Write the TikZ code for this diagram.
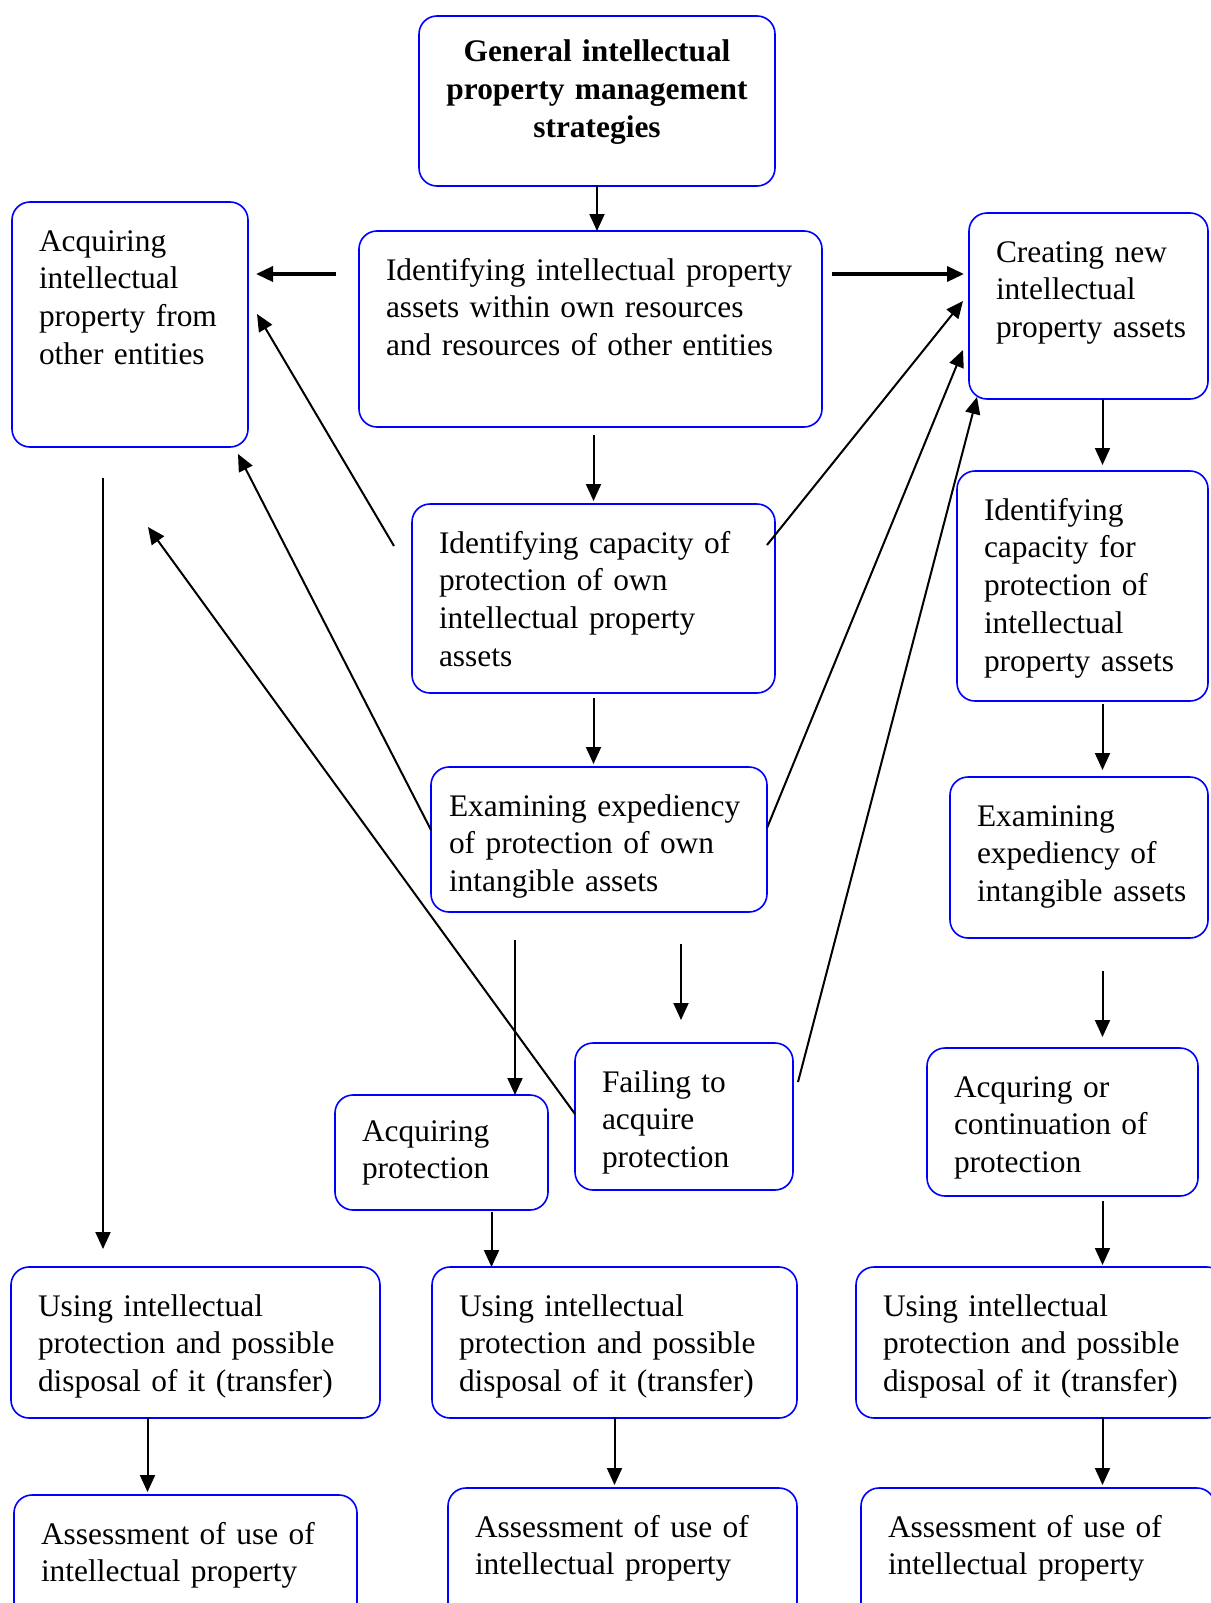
\documentclass[tikz,border=0pt]{standalone}
\usepackage{fontspec}
\setmainfont{Liberation Serif}
\usetikzlibrary{arrows.meta}
\hyphenpenalty=10000
\exhyphenpenalty=10000

\begin{document}
\begin{tikzpicture}[
  x=1pt, y=-1pt,
  every node/.style={font=\fontsize{31.4}{37.8}\selectfont},
  stage/.style={draw=blue, line width=1.6pt, rounded corners=18pt,
                anchor=north west, outer sep=0pt, align=left,
                inner xsep=27pt, inner ysep=27pt, text height=22pt},
  title/.style={stage, align=center, inner xsep=10pt, inner ysep=24pt,
                font=\fontsize{31.4}{37.8}\selectfont\bfseries},
  flow/.style={->, line width=2pt},
  bigflow/.style={->, line width=3.5pt},
  >={Triangle[length=17pt,width=15pt]}
]
\useasboundingbox (0,0) rectangle (1210,1603);

\node[title, text width=336pt, text depth=100pt] (gen) at (419,16)
  {General intellectual\\ property~management\\ strategies};
\node[stage, text width=409pt, text depth=120pt] (ident) at (359,231)
  {Identifying~intellectual~property\\ assets within own resources\\ and resources of other entities};
\node[stage, text width=182pt, text depth=169pt] (acqo) at (12,202)
  {Acquiring\\ intellectual\\ property~from\\ other~entities};
\node[stage, text width=185pt, text depth=110pt] (create) at (969,213)
  {Creating~new\\ intellectual\\ property~assets};
\node[stage, text width=309pt, text depth=113pt] (capown) at (412,504)
  {Identifying capacity of\\ protection of own\\ intellectual property\\ assets};
\node[stage, text width=197pt, text depth=154pt] (capnew) at (957,471)
  {Identifying\\ capacity for\\ protection of\\ intellectual\\ property~assets};
\node[stage, inner xsep=18pt, text width=300pt, text depth=69pt] (expown) at (431,767)
  {Examining~expediency\\ of protection of own\\ intangible assets};
\node[stage, text width=204pt, text depth=85pt] (expnew) at (950,777)
  {Examining\\ expediency~of\\ intangible~assets};
\node[stage, text width=164pt, text depth=71pt] (fail) at (575,1043)
  {Failing to\\ acquire\\ protection};
\node[stage, inner ysep=24pt, text width=159pt, text depth=45pt] (acqprot) at (335,1095)
  {Acquiring\\ protection};
\node[stage, text width=217pt, text depth=72pt] (contprot) at (927,1048)
  {Acquring or\\ continuation~of\\ protection};
\node[stage, text width=315pt, text depth=75pt] (useL) at (11,1267)
  {Using intellectual\\ protection~and~possible\\ disposal~of~it~(transfer)};
\node[stage, text width=311pt, text depth=75pt] (useM) at (432,1267)
  {Using intellectual\\ protection~and~possible\\ disposal~of~it~(transfer)};
\node[stage, text width=315pt, text depth=75pt] (useR) at (856,1267)
  {Using intellectual\\ protection~and~possible\\ disposal~of~it~(transfer)};
\node[stage, text width=289pt, text depth=54pt] (assL) at (14,1495)
  {Assessment~of~use~of\\ intellectual property};
\node[stage, text width=295pt, text depth=61pt] (assM) at (448,1488)
  {Assessment~of~use~of\\ intellectual property};
\node[stage, text width=300pt, text depth=61pt] (assR) at (861,1488)
  {Assessment~of~use~of\\ intellectual property};

% lanes of the straight arrows
\coordinate (row) at ([yshift=-43pt]ident.north west);
\coordinate (rlane) at ([xshift=14pt]create.south);
\coordinate (llane) at ([xshift=-27pt]acqo.south);
\coordinate (ulane) at ([xshift=-48pt]useL.south);
\coordinate (plane) at ([xshift=50pt]acqprot.south);
\coordinate (alane) at ([xshift=-84pt]expown.south);
\coordinate (flane) at ([xshift=82pt]expown.south);

\draw[flow] (gen.south) -- (gen.south |- ident.north);
\draw[bigflow, shorten <=23pt, shorten >=8pt] (row) -- (row -| acqo.east);
\draw[bigflow, shorten <=10pt, shorten >=5pt] (row -| ident.east) -- (row -| create.west);
\draw[flow, shorten <=8pt, shorten >=3pt] (capown.north |- ident.south) -- (capown.north);
\draw[flow, shorten <=5pt, shorten >=3pt] (capown.south) -- (capown.south |- expown.north);
\draw[flow, shorten >=6pt] (rlane) -- (rlane |- capnew.north);
\draw[flow, shorten <=3pt, shorten >=7pt] (rlane |- capnew.south) -- (rlane |- expnew.north);
\draw[flow, shorten <=33pt, shorten >=11pt] (rlane |- expnew.south) -- (rlane |- contprot.north);
\draw[flow, shorten <=5pt, shorten >=2pt] (rlane |- contprot.south) -- (rlane |- useR.north);
\draw[flow, shorten >=3pt] (rlane |- useR.south) -- (rlane |- assR.north);
\draw[flow, shorten >=3pt] (useM.south) -- (useM.south |- assM.north);
\draw[flow, shorten >=3pt] (ulane) -- (ulane |- assL.north);
\draw[flow, shorten <=2pt] (plane) -- (plane |- useM.north);
\draw[flow, shorten <=28pt] (alane) -- (alane |- acqprot.north);
\draw[flow, shorten <=32pt, shorten >=23pt] (flane) -- (flane |- fail.north);
\draw[flow, shorten <=31pt, shorten >=18pt] (llane) -- (llane |- useL.north);

\draw[flow] ([xshift=-18pt,yshift=-42pt]capown.north west) -- ([xshift=9pt,yshift=-112pt]acqo.north east);
\draw[flow] ([yshift=-63pt]expown.north west) -- ([xshift=-10pt,yshift=-7pt]acqo.south east);
\draw[flow] ([yshift=-71pt]fail.north west) -- ([xshift=18pt,yshift=-80pt]acqo.south);
\draw[flow] ([xshift=-8pt,yshift=-41pt]capown.north east) -- ([xshift=-6pt,yshift=-88pt]create.north west);
\draw[flow] ([yshift=-61pt]expown.north east) -- ([xshift=-6pt,yshift=-137pt]create.north west);
\draw[flow] ([xshift=5pt,yshift=-39pt]fail.north east) -- ([xshift=8pt,yshift=2pt]create.south west);

\end{tikzpicture}
\end{document}
